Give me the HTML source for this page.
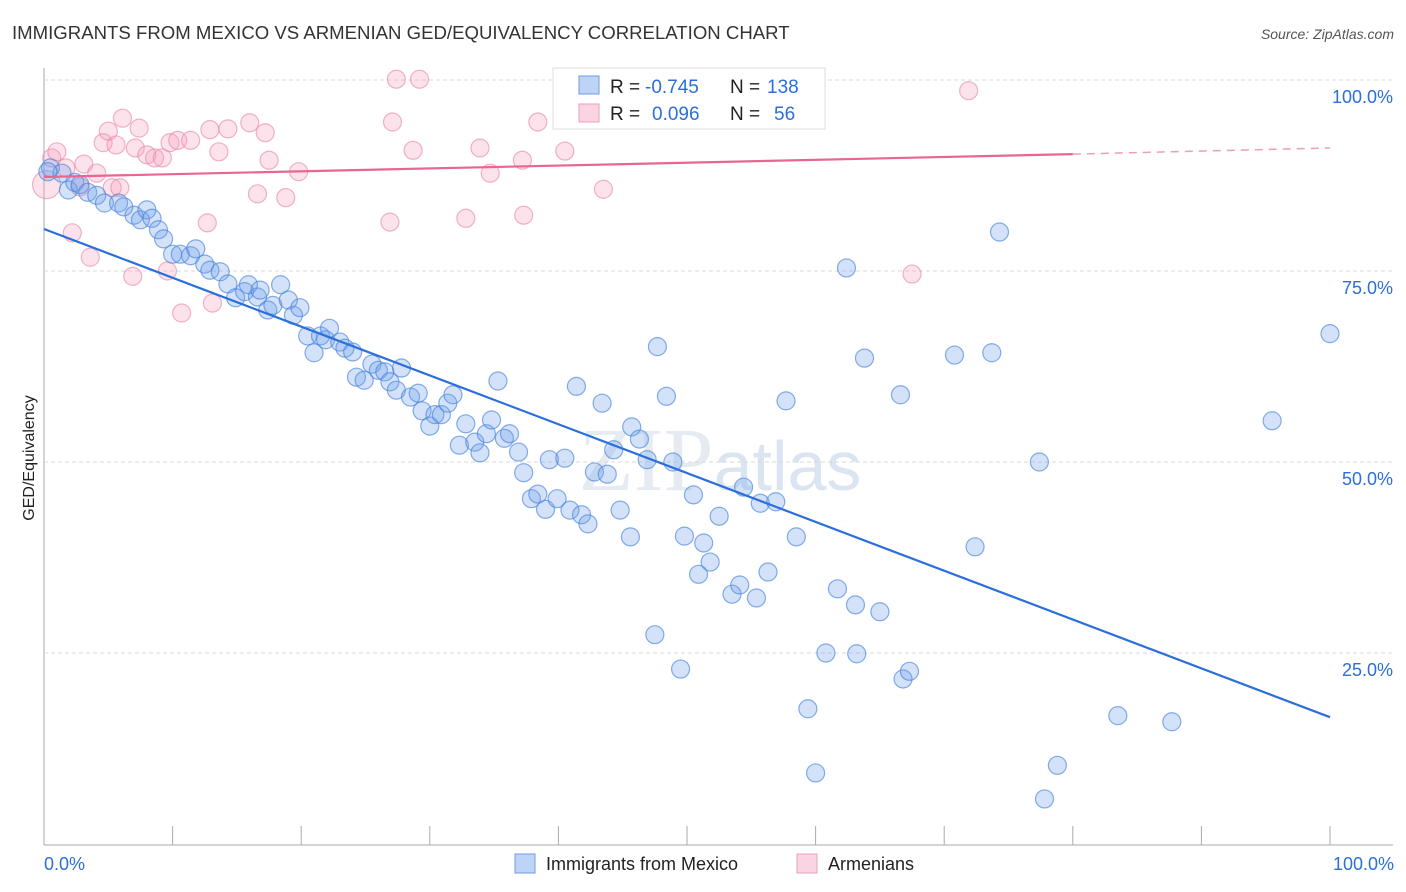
<!DOCTYPE html>
<html><head><meta charset="utf-8"><style>
body{margin:0;background:#fff;font-family:"Liberation Sans",sans-serif;}
#w{position:relative;width:1406px;height:892px;overflow:hidden}
svg{position:absolute;left:0;top:0}
</style></head><body>
<div id="w">
<svg id="s" width="1406" height="892">
<text x="12" y="39" font-size="18.6" fill="#333">IMMIGRANTS FROM MEXICO VS ARMENIAN GED/EQUIVALENCY CORRELATION CHART</text>
<text x="1394" y="39" font-size="14" fill="#555" font-style="italic" text-anchor="end">Source: ZipAtlas.com</text>
<text x="720" y="490" font-size="90" fill="#e6ebf2" text-anchor="middle" font-family="Liberation Serif">ZIP<tspan font-family="Liberation Sans" font-size="70" fill="#dbe5f2">atlas</tspan></text>
<text transform="translate(34,458) rotate(-90)" font-size="16" fill="#222" text-anchor="middle">GED/Equivalency</text>
<g id="grid"></g><g id="pts"></g><g id="lines"></g>
<g>
<rect x="553" y="68" width="272" height="61" fill="#fff" stroke="#ddd"/>
<rect x="579" y="76" width="20" height="18" fill="rgba(110,160,235,0.45)" stroke="#6d9be0"/>
<rect x="579" y="104" width="20" height="18" fill="rgba(245,160,190,0.45)" stroke="#eaa0b8"/>
<text x="610" y="93" font-size="19" fill="#222">R =</text>
<text x="645" y="93" font-size="19" fill="#2a6fdb">-0.745</text>
<text x="730" y="93" font-size="19" fill="#222">N =</text>
<text x="767" y="93" font-size="19" fill="#2a6fdb">138</text>
<text x="610" y="120" font-size="19" fill="#222">R =</text>
<text x="652" y="120" font-size="19" fill="#2a6fdb">0.096</text>
<text x="730" y="120" font-size="19" fill="#222">N =</text>
<text x="774" y="120" font-size="19" fill="#2a6fdb">56</text>
</g>
<g>
<rect x="515" y="854" width="20" height="19" fill="rgba(110,160,235,0.45)" stroke="#6d9be0"/>
<text x="546" y="870" font-size="18" fill="#222">Immigrants from Mexico</text>
<rect x="797" y="854" width="20" height="19" fill="rgba(245,160,190,0.45)" stroke="#eaa0b8"/>
<text x="828" y="870" font-size="18" fill="#222">Armenians</text>
</g>
<text x="44" y="870" font-size="18" fill="#2a6fdb">0.0%</text>
<text x="1394" y="870" font-size="18" fill="#2a6fdb" text-anchor="end">100.0%</text>
</svg></div>
<script>
const blueX=[0.5,1.4,1.9,2.4,2.8,3.4,4.1,4.7,5.8,6.2,7.0,7.5,8.0,8.4,8.9,9.3,10.0,10.6,11.4,11.8,12.5,12.9,13.7,14.3,14.9,15.6,15.9,16.6,16.8,17.4,17.8,18.4,19.0,19.4,19.9,20.5,21.0,21.5,21.9,22.2,23.0,23.4,24.0,24.3,24.9,25.5,26.0,26.5,26.9,27.4,27.8,28.5,29.1,29.4,30.0,30.4,30.9,31.4,31.8,32.3,32.8,33.5,33.9,34.4,34.8,35.3,35.8,36.2,36.9,37.3,37.9,38.4,39.0,39.3,39.9,40.5,40.9,41.4,41.8,42.3,42.8,43.4,43.8,44.3,44.8,45.6,45.7,46.3,46.9,47.5,47.7,48.4,48.9,49.5,49.8,50.5,50.9,51.3,51.8,52.5,53.5,54.1,54.4,55.4,55.7,56.3,56.9,57.7,58.5,59.4,60.0,60.8,61.7,62.4,63.1,63.2,63.8,65.0,66.6,66.8,67.3,70.8,72.4,73.7,74.3,77.4,77.8,78.8,83.5,87.7,95.5,100.0,0.3];
const blueY=[88.5,87.8,85.6,86.6,86.3,85.3,84.9,83.9,83.9,83.4,82.3,81.7,83.0,81.9,80.4,79.2,77.2,77.2,77.0,77.9,75.9,75.1,74.9,73.3,71.5,72.3,73.2,71.6,72.5,69.9,70.5,73.2,71.2,69.2,70.2,66.5,64.3,66.5,66.0,67.5,65.7,64.9,64.4,61.1,60.7,62.8,62.0,61.8,60.5,59.4,62.3,58.5,59.0,56.7,54.7,56.2,56.2,57.7,58.8,52.2,55.0,52.6,51.2,53.7,55.5,60.6,53.1,53.7,51.3,48.6,45.2,45.8,43.8,50.3,45.2,50.5,43.7,59.9,43.1,41.9,48.7,57.7,48.4,51.6,43.7,40.2,54.6,53.0,50.3,27.4,65.1,58.6,50.0,22.9,40.3,45.7,35.3,39.4,36.9,42.9,32.7,33.9,46.7,32.2,44.6,35.6,44.8,58.0,40.2,17.7,9.3,25.0,33.4,75.4,31.3,24.9,63.6,30.4,58.8,21.6,22.6,64.0,38.9,64.3,80.1,50.0,5.9,10.3,16.8,16.0,55.4,66.8,88.0];
const pinkX=[0.2,0.6,1.0,1.7,2.2,2.8,3.1,3.6,4.1,4.6,5.0,5.3,5.6,5.9,6.1,6.9,7.1,7.4,8.0,8.6,9.2,9.6,9.8,10.4,10.7,11.4,12.7,12.9,13.1,13.6,14.3,16.0,16.6,17.2,17.5,18.8,19.8,26.9,27.1,27.4,28.7,29.2,32.8,33.9,34.7,37.3,37.2,38.4,40.5,43.5,67.5,71.9];
const pinkY=[86.3,89.8,90.6,88.5,80.0,86.0,89.0,76.8,87.8,91.8,93.3,85.9,91.5,85.9,95.0,74.3,91.1,93.7,90.2,89.8,89.8,75.0,91.8,92.1,69.5,92.1,81.3,93.5,70.8,90.6,93.6,94.4,85.1,93.1,89.5,84.6,88.0,81.4,94.5,100.1,90.8,100.1,81.9,91.1,87.8,82.3,89.5,94.5,90.7,85.7,74.6,98.6];
const blueTrend=[80.5,16.6];
const pinkTrend=[87.3,90.3,91.1];
const yTicks=[100,75,50,25];
const yTickLabels=["100.0%","75.0%","50.0%","25.0%"];
const xTicks=[0,10,20,30,40,50,60,70,80,90,100];
const X=v=>44+v*12.86, Y=v=>844-v*7.64;
const NS="http://www.w3.org/2000/svg";
function mk(t,a,p){const e=document.createElementNS(NS,t);for(const k in a)e.setAttribute(k,a[k]);p.appendChild(e);return e;}
const g=document.getElementById('grid');
let ax=mk('line',{x1:44,y1:68,x2:44,y2:845,stroke:'#aaa'},g);


let bx=mk('line',{x1:44,y1:845,x2:1393,y2:845,stroke:'#aaa'},g);


yTicks.forEach((v,i)=>{
 const l=mk('line',{x1:44,x2:1393,y1:Y(v),y2:Y(v),stroke:'#d8d8d8','stroke-dasharray':'4,3'},g);
 
 
 const t=mk('text',{x:1393,y:Y(v)+23,'font-size':18,fill:'#2a6fdb','text-anchor':'end'},g);t.textContent=yTickLabels[i];
 
 
});
xTicks.forEach(v=>{const l=mk('line',{x1:X(v),x2:X(v),y1:826,y2:845,stroke:'#aaa'},g);
 
 });
const p=document.getElementById('pts');
pinkX.forEach((v,i)=>{const c=mk('circle',{cx:X(v),cy:Y(pinkY[i]),r:i==0?14:9,fill:'rgba(245,160,190,0.3)',stroke:'rgba(232,130,165,0.6)','stroke-width':1.2},p);
 
 });
blueX.forEach((v,i)=>{const c=mk('circle',{cx:X(v),cy:Y(blueY[i]),r:9,fill:'rgba(110,160,235,0.3)',stroke:'rgba(70,130,220,0.65)','stroke-width':1.2},p);
 
 });
const L=document.getElementById('lines');
let bl=mk('line',{x1:X(0),y1:Y(blueTrend[0]),x2:X(100),y2:Y(blueTrend[1]),stroke:'#2a6fdb','stroke-width':2.2},L);


let pl=mk('line',{x1:X(0),y1:Y(pinkTrend[0]),x2:X(80),y2:Y(pinkTrend[1]),stroke:'#e8668f','stroke-width':2.2},L);


let pd=mk('line',{x1:X(80),y1:Y(pinkTrend[1]),x2:X(100),y2:Y(pinkTrend[2]),stroke:'#eaa0b8','stroke-width':1.5,'stroke-dasharray':'8,6'},L);


</script>
</body></html>
